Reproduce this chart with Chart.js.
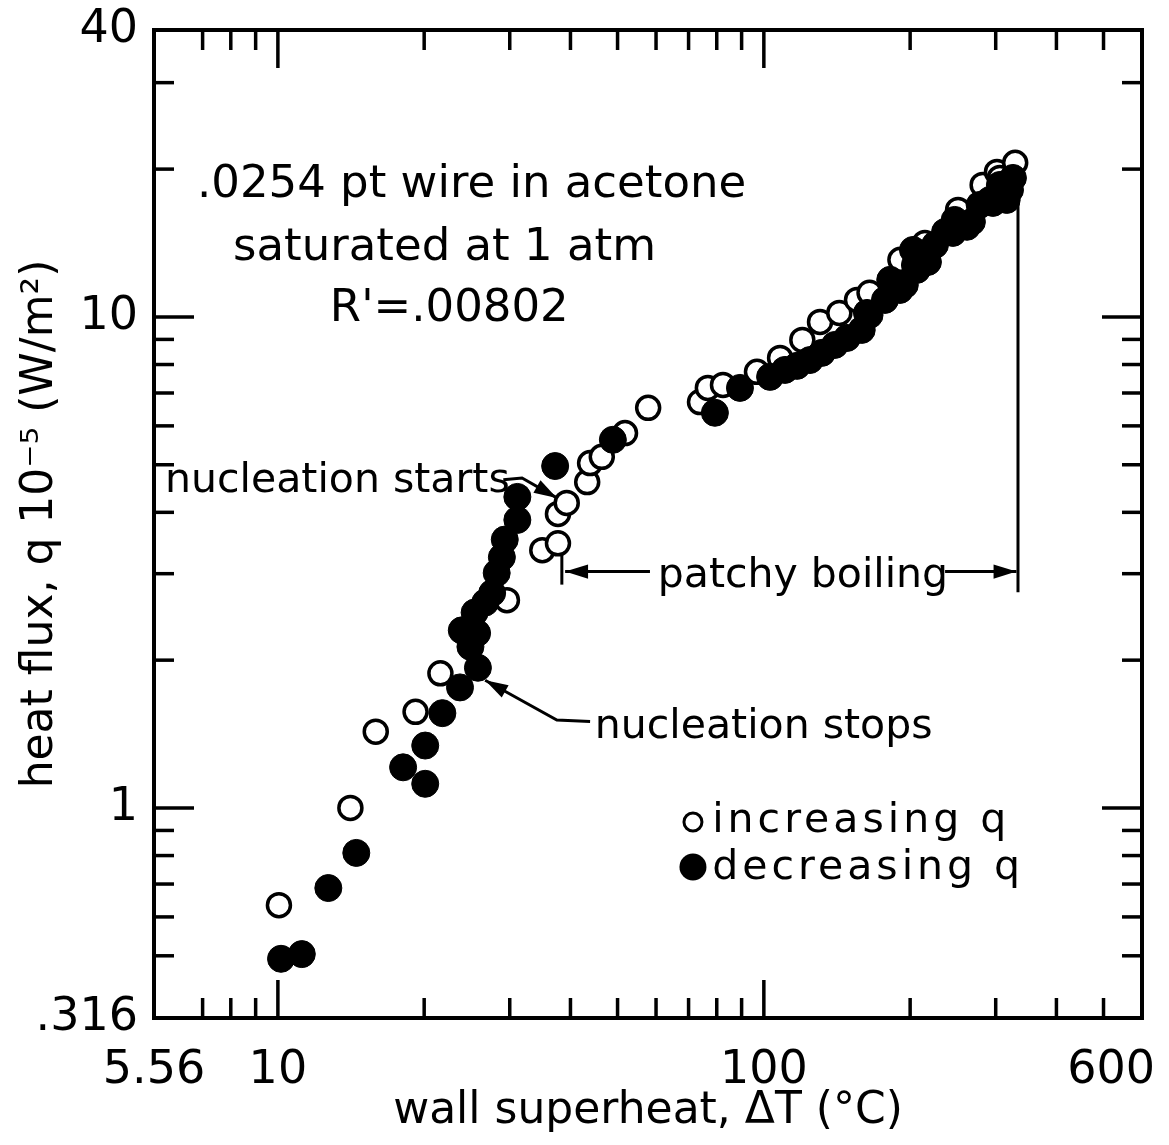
<!DOCTYPE html>
<html>
<head>
<meta charset="utf-8">
<title>Boiling of acetone on a Pt wire</title>
<script src="https://cdn.jsdelivr.net/npm/chart.js@4.4.1/dist/chart.umd.min.js"></script>
<style>
  html, body { margin: 0; padding: 0; background: #fff; }
  canvas { display: block; }
</style>
</head>
<body>
<canvas id="boilChart" width="1169" height="1145"></canvas>
<script>
// wall superheat dT (deg C) and heat flux q (x 1e5 W/m2), taken pairwise
const incT = [10.05, 14.1, 15.9, 19.2, 21.6, 29.6, 35.0, 37.7, 37.7, 39.3, 43.3, 43.9, 46.4, 51.8, 57.8,
  73.9, 76.7, 82.4, 96.8, 108, 120, 130.5, 143, 155.5, 165, 191, 214.5, 251, 282, 301.8, 306, 329];
const incQ = [0.634, 1.00, 1.43, 1.57, 1.88, 2.65, 3.35, 3.46, 3.97, 4.18, 4.61, 5.04, 5.19, 5.80, 6.53,
  6.71, 7.17, 7.27, 7.73, 8.25, 8.98, 9.77, 10.19, 10.83, 11.2, 13.07, 14.15, 16.52, 18.57, 19.74, 19.19, 20.6];

const decT = [10.15, 11.2, 12.7, 14.5, 18.1, 20.1, 20.1, 21.8, 23.7, 25.8, 24.9, 23.9, 25.7, 25.4, 26.7,
  27.6, 28.2, 28.9, 29.3, 31.1, 31.1, 37.2, 48.9, 79.3, 89.3, 103, 110.5, 117, 124.4, 131.7, 140, 148.3, 159,
  163, 165, 177.5, 182, 190.6, 195, 202.7, 204.6, 206.6, 217.6, 225, 236, 244.9, 247, 261.8, 268, 278,
  292, 296, 306, 310.5, 316, 321, 325.5];
const decQ = [0.493, 0.504, 0.687, 0.810, 1.21, 1.12, 1.34, 1.56, 1.76, 1.93, 2.13, 2.30, 2.27, 2.50, 2.62,
  2.74, 3.01, 3.24, 3.52, 3.86, 4.30, 4.97, 5.62, 6.38, 7.17, 7.55, 7.80, 7.95, 8.17, 8.45, 8.77, 9.06, 9.41,
  10.19, 10.09, 10.83, 11.9, 11.35, 11.62, 13.69, 12.76, 12.47, 12.94, 14.02, 14.90, 14.83, 15.76, 15.26, 15.62, 16.91,
  17.31, 17.07, 18.57, 17.55, 17.31, 18.14, 19.19];

// axis ticks
const xTickValues = [5.56, 10, 100, 600];
const xTickLabels = ['5.56', '10', '100', '600'];
const xMajor = [10, 100];
const xMinor = [7, 8, 9, 20, 30, 40, 50, 60, 70, 80, 90, 200, 300, 400, 500];

// the frame runs from q = .373 to 38.4 on the decade ticks; its corners carry the .316 / 40 marks
const yMin = 0.3735;
const yMax = 38.4;
const yTickValues = [yMin, 1, 10, yMax];
const yTickLabels = ['.316', '1', '10', '40'];
const yMajor = [1, 10];
const yMinor = [0.5, 0.6, 0.7, 0.8, 0.9, 2, 3, 4, 5, 6, 7, 8, 9, 20, 30];

const headingLines = ['.0254 pt wire in acetone', 'saturated at 1 atm', "R'=.00802"];

const FONT = '"DejaVu Sans", sans-serif';
Chart.defaults.font.family = FONT;
Chart.defaults.color = '#000';

// callouts in data units (dT, q): text baseline start and a leader ending in an arrow
const callouts = [
  { text: 'nucleation starts', at: [5.86, 4.40], path: [[29.1, 4.66], [31.8, 4.70], [37.5, 4.28]] },
  { text: 'nucleation stops', at: [44.9, 1.39], path: [[43.9, 1.50], [37.5, 1.51], [26.7, 1.82]] },
  { text: 'patchy boiling', at: [60.5, 2.82], path: [[58.3, 3.03], [39.0, 3.03]] },
  { path: [[236, 3.03], [331, 3.03]] }
];
// plain bars marking the patchy boiling range
const bars = [
  [[38.4, 3.31], [38.4, 2.85]],
  [[333.4, 17.5], [333.4, 2.75]]
];

function arrowHead(ctx, x1, y1, x2, y2) {
  const a = Math.atan2(y2 - y1, x2 - x1);
  ctx.beginPath();
  ctx.moveTo(x2, y2);
  ctx.lineTo(x2 - 24 * Math.cos(a - 0.3), y2 - 24 * Math.sin(a - 0.3));
  ctx.lineTo(x2 - 24 * Math.cos(a + 0.3), y2 - 24 * Math.sin(a + 0.3));
  ctx.closePath();
  ctx.fill();
}

const framePlugin = {
  id: 'frame',
  beforeDatasetsDraw(chart) {
    const { ctx, chartArea: a, scales: { x, y } } = chart;
    const w = a.right - a.left, h = a.bottom - a.top;
    const line = (x1, y1, x2, y2) => { ctx.beginPath(); ctx.moveTo(x1, y1); ctx.lineTo(x2, y2); ctx.stroke(); };

    ctx.save();
    ctx.strokeStyle = '#000';
    ctx.fillStyle = '#000';
    ctx.lineWidth = 4;
    ctx.strokeRect(a.left, a.top, w, h);

    // inward ticks on all four sides
    ctx.lineWidth = 3.5;
    xMinor.concat(xMajor).forEach(v => {
      const len = xMajor.includes(v) ? 38 : 20;
      const px = x.getPixelForValue(v);
      line(px, a.bottom, px, a.bottom - len);
      line(px, a.top, px, a.top + len);
    });
    yMinor.concat(yMajor).forEach(v => {
      const len = yMajor.includes(v) ? 40 : 20;
      const py = y.getPixelForValue(v);
      line(a.left, py, a.left + len, py);
      line(a.right, py, a.right - len, py);
    });

    // x tick labels, kept inside the canvas at the right end
    ctx.font = '46px ' + FONT;
    ctx.textAlign = 'center';
    ctx.textBaseline = 'alphabetic';
    xTickValues.forEach((v, i) => {
      const tw = ctx.measureText(xTickLabels[i]).width;
      const px = Math.min(x.getPixelForValue(v), chart.width - 14 - tw / 2);
      ctx.fillText(xTickLabels[i], px, a.bottom + 65);
    });

    // heading block
    ctx.font = '45px ' + FONT;
    ctx.textAlign = 'left';
    const headingPos = [[0.0435, 0.169], [0.08, 0.2328], [0.178, 0.2945]];
    headingLines.forEach((t, i) => {
      ctx.fillText(t, a.left + headingPos[i][0] * w, a.top + headingPos[i][1] * h);
    });

    // callouts and leaders
    ctx.font = '41px ' + FONT;
    ctx.lineWidth = 3;
    callouts.forEach(c => {
      if (c.text) ctx.fillText(c.text, x.getPixelForValue(c.at[0]), y.getPixelForValue(c.at[1]));
      const pts = c.path.map(p => [x.getPixelForValue(p[0]), y.getPixelForValue(p[1])]);
      ctx.beginPath();
      pts.forEach((p, i) => i ? ctx.lineTo(p[0], p[1]) : ctx.moveTo(p[0], p[1]));
      ctx.stroke();
      const n = pts.length;
      arrowHead(ctx, pts[n - 2][0], pts[n - 2][1], pts[n - 1][0], pts[n - 1][1]);
    });
    bars.forEach(b => {
      line(x.getPixelForValue(b[0][0]), y.getPixelForValue(b[0][1]),
           x.getPixelForValue(b[1][0]), y.getPixelForValue(b[1][1]));
    });

    // key, drawn from the datasets themselves
    ctx.font = '41px ' + FONT;
    ctx.letterSpacing = '4px';
    chart.data.datasets.forEach((ds, i) => {
      const base = a.top + (0.8117 + i * 0.0476) * h;
      const mx = a.left + 0.5455 * w;
      ctx.beginPath();
      if (ds.pointBackgroundColor === '#000') {
        ctx.arc(mx, base - 12, 13.5, 0, Math.PI * 2);
        ctx.fill();
      } else {
        ctx.lineWidth = 3;
        ctx.arc(mx, base - 10, 9, 0, Math.PI * 2);
        ctx.stroke();
      }
      ctx.fillText(ds.label, a.left + 0.565 * w, base);
    });
    ctx.restore();
  }
};

const ctx = document.querySelector('#boilChart');

new Chart(ctx, {
  type: 'scatter',
  data: {
    datasets: [
      {
        label: 'increasing q',
        data: incT.map((t, i) => ({ x: t, y: incQ[i] })),
        pointRadius: 11.5,
        pointHoverRadius: 11.5,
        pointBorderWidth: 3.5,
        pointBackgroundColor: '#fff',
        pointBorderColor: '#000',
        order: 1
      },
      {
        label: 'decreasing q',
        data: decT.map((t, i) => ({ x: t, y: decQ[i] })),
        pointRadius: 13.5,
        pointHoverRadius: 13.5,
        pointBorderWidth: 1,
        pointBackgroundColor: '#000',
        pointBorderColor: '#000',
        order: 0
      }
    ]
  },
  options: {
    responsive: false,
    animation: false,
    events: [],
    layout: { padding: { top: 30, right: 27, left: 0, bottom: 0 } },
    plugins: {
      legend: { display: false },
      tooltip: { enabled: false }
    },
    scales: {
      x: {
        type: 'logarithmic',
        min: 5.56,
        max: 600,
        bounds: 'data',
        grid: { display: false, drawTicks: false },
        border: { display: false },
        ticks: { display: false },
        afterFit: s => { s.height = 127; s.paddingLeft = 0; s.paddingRight = 0; },
        title: {
          display: true,
          text: 'wall superheat, ΔT (°C)',
          font: { size: 44 },
          padding: { top: 0, bottom: 7 }
        }
      },
      y: {
        type: 'logarithmic',
        min: yMin,
        max: yMax,
        bounds: 'data',
        grid: { display: false, drawTicks: false },
        border: { display: false },
        afterBuildTicks: s => { s.ticks = yTickValues.map(v => ({ value: v })); },
        afterFit: s => { s.width = 154; s.paddingTop = 0; s.paddingBottom = 0; },
        ticks: {
          autoSkip: false,
          padding: 16,
          font: { size: 46 },
          callback: (v, i) => yTickLabels[i]
        },
        title: {
          display: true,
          text: 'heat flux, q 10⁻⁵ (W/m²)',
          font: { size: 44 },
          padding: { top: 14, bottom: 0 }
        }
      }
    }
  },
  plugins: [framePlugin]
});
</script>
</body>
</html>
